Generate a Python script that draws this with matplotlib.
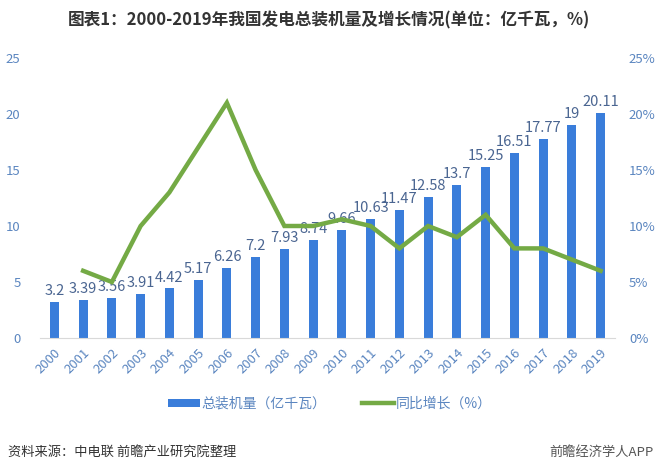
"""
2000-2019 installed generating capacity in China and year-on-year growth
"""

import numpy as np
import matplotlib as mpl
mpl.use('Agg')
import matplotlib.pyplot as plt
from matplotlib.ticker import FuncFormatter

plt.rcParams['font.family'] = ['Noto Sans CJK SC', 'DejaVu Sans']

# data
years = [str(y) for y in range(2000, 2020)]
capacity = [3.2, 3.39, 3.56, 3.91, 4.42, 5.17, 6.26, 7.2, 7.93, 8.74,
            9.66, 10.63, 11.47, 12.58, 13.7, 15.25, 16.51, 17.77, 19, 20.11]
cap_labels = ['3.2', '3.39', '3.56', '3.91', '4.42', '5.17', '6.26', '7.2',
              '7.93', '8.74', '9.66', '10.63', '11.47', '12.58', '13.7',
              '15.25', '16.51', '17.77', '19', '20.11']
growth_years = years[1:]
growth = [6, 5, 10, 13, 17, 21, 15, 10, 10, 10.6, 10, 8, 10, 9, 11,
          8, 8, 7, 6]

# colours
c_bar   = '#3a7dda'
c_line  = '#74aa45'
c_tick  = '#5b86c0'
c_label = '#4a6591'
c_axis  = '#d9d9d9'

fig_w, fig_h = 658, 470
fig = plt.figure(figsize=(fig_w / 100., fig_h / 100.), dpi=100)
ax = fig.add_axes([40. / fig_w, 1 - 338. / fig_h,
                   575. / fig_w, 280. / fig_h])

x = np.arange(len(years))
bars = ax.bar(x, capacity, width=0.32, color=c_bar, zorder=2,
              label=u'总装机量（亿千瓦）')
for xi, v, s in zip(x, capacity, cap_labels):
    ax.text(xi, v + 0.35, s, ha='center', va='bottom', fontsize=10.5,
            color=c_label, zorder=5)

ax.set_xlim(-0.5, len(years) - 0.5)
ax.set_ylim(0, 25)
ax.set_yticks([0, 5, 10, 15, 20, 25])
ax.set_xticks(x)
ax.set_xticklabels(years, rotation=45, ha='right', rotation_mode='anchor')
ax.tick_params(axis='x', length=0, pad=6, labelsize=9.5, labelcolor=c_tick)
ax.tick_params(axis='y', length=0, pad=14, labelsize=9.5, labelcolor=c_tick)
for side in ['top', 'right', 'left']:
    ax.spines[side].set_visible(False)
ax.spines['bottom'].set_color(c_axis)

# growth line drawn on top of bars and labels
ax2 = ax.twinx()
gx = np.arange(1, len(years))
line, = ax2.plot(gx, np.array(growth) / 100., color=c_line, linewidth=3.2,
                 solid_joinstyle='miter', zorder=3,
                 label=u'同比增长（%）')
ax2.set_ylim(0, 0.25)
ax2.set_yticks([0, 0.05, 0.10, 0.15, 0.20, 0.25])
ax2.yaxis.set_major_formatter(FuncFormatter(lambda v, p: '%d%%' % round(v * 100)))
ax2.tick_params(axis='y', length=0, pad=10, labelsize=9.5, labelcolor=c_tick)
for side in ['top', 'right', 'left', 'bottom']:
    ax2.spines[side].set_visible(False)

leg = fig.legend(handles=[bars, line], loc='center',
                 bbox_to_anchor=(330. / fig_w, 1 - 404. / fig_h),
                 ncol=2, frameon=False, fontsize=10, handlelength=2.3,
                 handleheight=0.55, handletextpad=0.1, columnspacing=2.6)
for t in leg.get_texts():
    t.set_color(c_tick)

fig.text(329. / fig_w, 1 - 20. / fig_h,
         u'图表1：2000-2019年我国发电总装机量及增长情况(单位：亿千瓦，%)',
         ha='center', va='center', fontsize=12, fontweight='bold',
         color='#333333')
fig.text(8. / fig_w, 1 - 452. / fig_h, u'资料来源：中电联 前瞻产业研究院整理',
         ha='left', va='center', fontsize=9.5, color='#333333')
fig.text(654. / fig_w, 1 - 452. / fig_h, u'前瞻经济学人APP',
         ha='right', va='center', fontsize=9.5, color='#555555')

plt.savefig('out.png', dpi=100)
